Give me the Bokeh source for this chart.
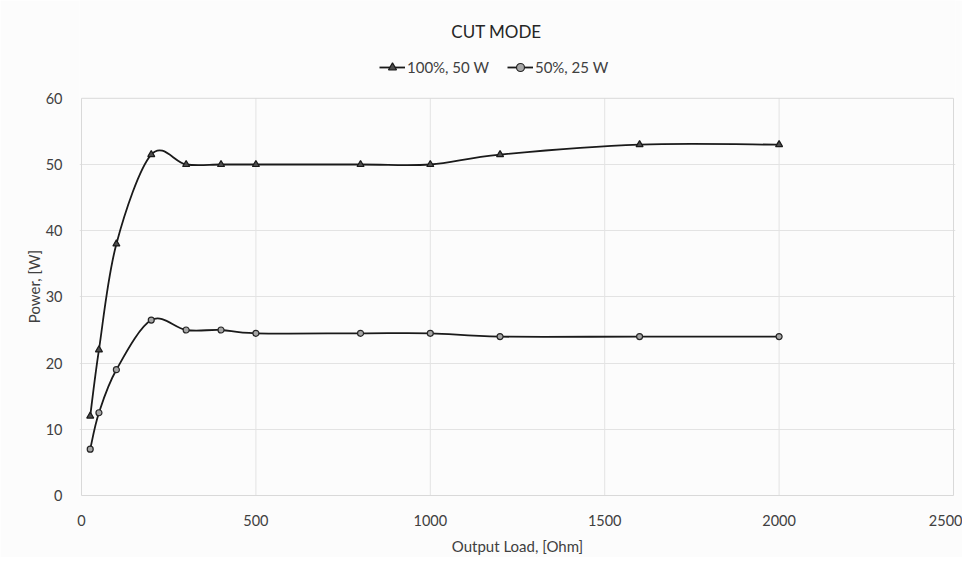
import numpy as np
from bokeh.plotting import figure
from bokeh.models import Legend, LegendItem, Range1d, FixedTicker, Label
from bokeh.embed import file_html
from bokeh.resources import INLINE

# ---- data ----
load_ohm = [25, 50, 100, 200, 300, 400, 500, 800, 1000, 1200, 1600, 2000]
power_100 = [12, 22, 38, 51.5, 50, 50, 50, 50, 50, 51.5, 53, 53]
power_50 = [7, 12.5, 19, 26.5, 25, 25, 24.5, 24.5, 24.5, 24, 24, 24]
series_labels = ["100%, 50 W", "50%, 25 W"]
x_ticks = [0, 500, 1000, 1500, 2000, 2500]
y_ticks = [0, 10, 20, 30, 40, 50, 60]

FONT = "Lato"
TXT = "#404040"
GRID = "#e3e3e3"

# ---- layout (pixels) ----
W, H = 962, 557
AREA_L, AREA_R, AREA_T, AREA_B = 81, 953, 98, 496   # plot-area box in the page
PAD = 2
px_x = (x_ticks[-1] - x_ticks[0]) / (AREA_R - AREA_L)
px_y = (y_ticks[-1] - y_ticks[0]) / (AREA_B - AREA_T)
FR_L, FR_R, FR_T, FR_B = AREA_L - PAD, AREA_R + PAD, 0, AREA_B + PAD


def smooth_segments(xs, ys):
    """Excel-style smoothed line: cubic Bezier control points per segment."""
    xs = np.asarray(xs, float)
    ys = np.asarray(ys, float)
    n = len(xs)
    d = dict(x0=[], y0=[], x1=[], y1=[], cx0=[], cy0=[], cx1=[], cy1=[])
    for i in range(n - 1):
        pv = max(i - 1, 0)
        nx = min(i + 2, n - 1)
        d["x0"].append(xs[i]); d["y0"].append(ys[i])
        d["x1"].append(xs[i + 1]); d["y1"].append(ys[i + 1])
        d["cx0"].append(xs[i] + (xs[i + 1] - xs[pv]) / 6.0)
        d["cy0"].append(ys[i] + (ys[i + 1] - ys[pv]) / 6.0)
        d["cx1"].append(xs[i + 1] - (xs[nx] - xs[i]) / 6.0)
        d["cy1"].append(ys[i + 1] - (ys[nx] - ys[i]) / 6.0)
    return d


p = figure(width=W, height=H, output_backend="svg", toolbar_location=None, title=None,
           x_range=Range1d(x_ticks[0] - PAD * px_x, x_ticks[-1] + PAD * px_x),
           y_range=Range1d(y_ticks[0] - PAD * px_y, y_ticks[-1] + (AREA_T - FR_T) * px_y),
           min_border_left=FR_L, min_border_right=W - FR_R,
           min_border_top=FR_T, min_border_bottom=H - FR_B)

p.background_fill_color = "#fcfcfc"
p.border_fill_color = "#fcfcfc"
p.outline_line_color = None

for ax in (p.xaxis[0], p.yaxis[0]):
    ax.axis_line_color = None
    ax.major_tick_line_color = None
    ax.minor_tick_line_color = None
    ax.major_label_text_font = FONT
    ax.major_label_text_font_size = "14.5px"
    ax.major_label_text_color = TXT
    ax.axis_label_text_font = FONT
    ax.axis_label_text_font_size = "15px"
    ax.axis_label_text_font_style = "normal"
    ax.axis_label_text_color = TXT

p.xaxis.ticker = FixedTicker(ticks=x_ticks)
p.yaxis.ticker = FixedTicker(ticks=y_ticks)
p.xaxis.axis_label = "Output Load, [Ohm]"
# trailing em-spaces move the visible y label down to the centre of the 0..60 area
p.yaxis.axis_label = "Power, [W]" + "\u2003" * 6 + "\u2002"
p.xaxis.major_label_standoff = 11
p.yaxis.major_label_standoff = 11
p.xaxis.axis_label_standoff = 8
p.yaxis.axis_label_standoff = 0

# gridlines and plot-area box (limited to the 0..60 / 0..2500 area)
p.xgrid.visible = False
p.ygrid.ticker = FixedTicker(ticks=y_ticks[1:-1])
p.ygrid.grid_line_color = GRID
p.segment(x0=x_ticks[1:-1], y0=[y_ticks[0]] * (len(x_ticks) - 2),
          x1=x_ticks[1:-1], y1=[y_ticks[-1]] * (len(x_ticks) - 2),
          line_color=GRID, line_width=1)
p.quad(left=[x_ticks[0]], right=[x_ticks[-1]], bottom=[y_ticks[0]], top=[y_ticks[-1]],
       fill_color=None, line_color="#d9d9d9", line_width=1)

items = []
styles = [
    dict(marker="triangle", fill="#4d4d4d", line="#1a1a1a", size=7),
    dict(marker="circle", fill="#a6a6a6", line="#262626", size=6),
]
for label, ys, st in zip(series_labels, [power_100, power_50], styles):
    seg = smooth_segments(load_ohm, ys)
    b = p.bezier(x0="x0", y0="y0", x1="x1", y1="y1", cx0="cx0", cy0="cy0",
                 cx1="cx1", cy1="cy1", source=seg, line_color="#1a1a1a", line_width=1.8)
    s = p.scatter(load_ohm, ys, marker=st["marker"], size=st["size"],
                  fill_color=st["fill"], line_color=st["line"], line_width=1.2)
    items.append(LegendItem(label=label, renderers=[b, s]))

legend = Legend(items=items, orientation="horizontal",
                location=(379 - FR_L, FR_B - 78),
                label_text_font=FONT, label_text_font_size="15px", label_text_color=TXT,
                background_fill_alpha=0, border_line_color=None,
                glyph_width=26, label_standoff=2, spacing=18, padding=4, margin=0)
p.add_layout(legend, "center")

title = Label(x=496 - FR_L, y=FR_B - 32, x_units="screen", y_units="screen", text="CUT MODE",
              text_font=FONT, text_font_size="17px", text_color="#262626",
              text_align="center", text_baseline="middle")
p.add_layout(title)

with open("out.html", "w") as f:
    f.write(file_html(p, INLINE))
